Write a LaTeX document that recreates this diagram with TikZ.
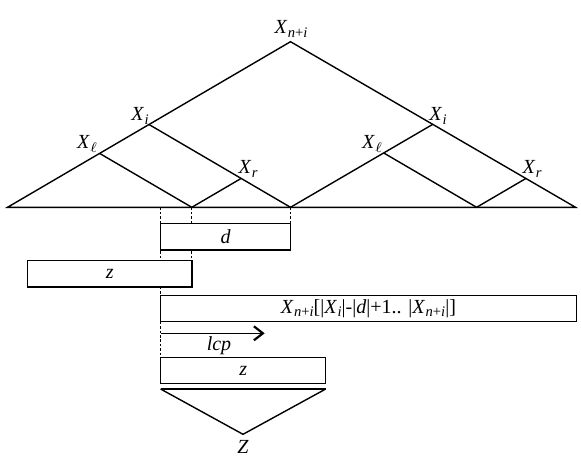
\documentclass[tikz,border=0pt]{standalone}
\usepackage{fontspec}
\setmainfont{Liberation Serif}
\usetikzlibrary{arrows.meta}
\newcommand\Xs[1]{\textit{X}\kern0.02em\raisebox{-0.4ex}{\fontsize{7.3}{8}\selectfont #1}}
\newcommand\npi{\textit{n}+\textit{i}}
\begin{document}
\begin{tikzpicture}[x=0.5pt,y=-0.5pt,line width=0.7pt,line join=miter,
  lbl/.style={font=\fontsize{10}{12}\selectfont,inner sep=0pt},
  strbox/.style={draw,fill=white,line width=0.7pt,inner sep=0pt,outer sep=0pt,
    anchor=north west,font=\fontsize{10}{12}\selectfont},
  dsh/.style={dash pattern=on 1.3pt off 0.9pt,line width=0.45pt}]
\useasboundingbox[fill=white] (0,0) rectangle (581,466);
% tree points
\coordinate (BL) at (7.5,207.3);
\coordinate (BR) at (575.5,207.3);
\coordinate (top) at (290.5,41.7);
\coordinate (LXi) at (149,124.5);
\coordinate (LXl) at (99.6,153.4);
\coordinate (LXr) at (241.2,178.4);
\coordinate (RXi) at (433,124.2);
\coordinate (RXl) at (383.6,152.9);
\coordinate (RXr) at (526,178.4);
\coordinate (a) at (191.8,207.3);
\coordinate (m) at (290.5,207.3);
\coordinate (c) at (476.6,207.3);
\coordinate (s) at (160.6,207.3);
% tree
\draw (BL) -- (top) -- (BR) -- cycle;
\draw (LXi) -- (m) -- (RXi);
\draw (LXl) -- (a) -- (LXr);
\draw (RXl) -- (c) -- (RXr);
% labels
\node[lbl] (lnpi) at (291,29) {\Xs{\npi}};
\node[lbl] (llXi) at (140,116) {\Xs{\textit{i}}};
\node[lbl] (llXl) at (87,144) {\Xs{\ensuremath{\ell}}};
\node[lbl] (llXr) at (248,169) {\Xs{\textit{r}}};
\node[lbl] (lrXi) at (438,116) {\Xs{\textit{i}}};
\node[lbl] (lrXl) at (372,144) {\Xs{\ensuremath{\ell}}};
\node[lbl] (lrXr) at (532,169) {\Xs{\textit{r}}};
% boxes
\coordinate (dNW) at (160.6,223.3);
\coordinate (zLNW) at (27.5,260.3);
\coordinate (xNW) at (160.6,295.3);
\coordinate (zBNW) at (160.6,357.3);
\draw[dsh] (s) -- (zBNW);
\draw[dsh] (a) -- (191.8,260.3) coordinate (zLNE);
\draw[dsh] (m) -- (290.5,223.3) coordinate (dNE);
\node[strbox,minimum width=64.95pt,minimum height=13.35pt] (dbox) at (dNW) {\textit{d}};
\node[strbox,minimum width=82.15pt,minimum height=13.35pt] (zL) at (zLNW) {\textit{z}};
\node[strbox,minimum width=207.8pt,minimum height=13.2pt] (xbox) at (xNW)
  {\Xs{\npi}[|\Xs{\textit{i}}|-|\textit{d}|+1.. |\Xs{\npi}|]};
\node[strbox,minimum width=82.55pt,minimum height=13.2pt] (zB) at (zBNW) {\textit{z}};
% lcp arrow
\coordinate (l0) at (160.6,333.3);
\coordinate (l1) at (264.7,333.3);
\draw[line width=0.75pt,-{Straight Barb[length=4.5pt,width=7pt,line width=1.1pt]}] (l0) -- (l1);
\node[lbl] (lcp) at (219,346) {\textit{lcp}};
% Z triangle
\coordinate (t0) at (160.6,389);
\coordinate (t1) at (325.7,389);
\coordinate (tz) at (243,434.3);
\draw (t0) -- (t1);
\draw (t0) -- (tz) -- (t1);
\node[lbl] (Z) at (243,447) {\textit{Z}};
\end{tikzpicture}
\end{document}
